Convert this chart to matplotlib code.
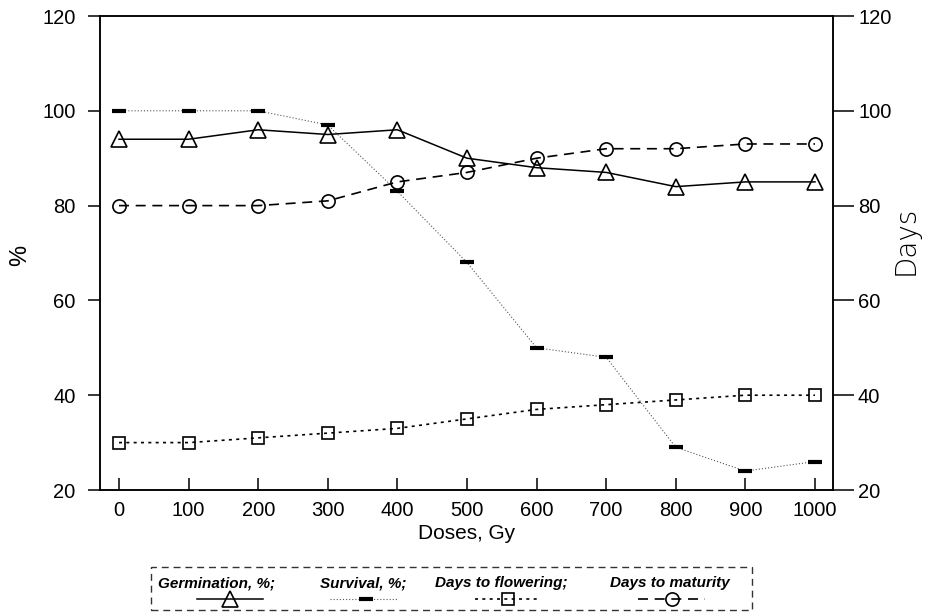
import matplotlib
matplotlib.use("Agg")
import matplotlib.pyplot as plt
from matplotlib.lines import Line2D
from matplotlib.patches import Rectangle

plt.rcParams['font.family'] = ['Liberation Sans', 'DejaVu Sans']

doses = [0, 100, 200, 300, 400, 500, 600, 700, 800, 900, 1000]
germination = [94, 94, 96, 95, 96, 90, 88, 87, 84, 85, 85]
survival = [100, 100, 100, 97, 83, 68, 50, 48, 29, 24, 26]
days_flowering = [30, 30, 31, 32, 33, 35, 37, 38, 39, 40, 40]
days_maturity = [80, 80, 80, 81, 85, 87, 90, 92, 92, 93, 93]
y_ticks = [20, 40, 60, 80, 100, 120]
labels = ["Germination, %;", "Survival, %;", "Days to flowering;", "Days to maturity"]

W, H = 929, 612
fig = plt.figure(figsize=(W / 100, H / 100), dpi=100)
L, R, T, B = 100, 833, 16, 490
ax = fig.add_axes([L / W, 1 - B / H, (R - L) / W, (B - T) / H])
ax2 = ax.twinx()

for sp in ax.spines.values():
    sp.set_linewidth(1.1)
for sp in ax2.spines.values():
    sp.set_linewidth(1.1)

ax.set_xlim(-27.3, 1025.9)
ax.set_ylim(20, 120)
ax2.set_ylim(20, 120)
ax.set_xticks(doses)
ax.set_yticks(y_ticks)
ax2.set_yticks(y_ticks)

ax.tick_params(axis='x', direction='in', length=9, width=1.1, pad=8, labelsize=14.5)
ax.tick_params(axis='y', direction='out', length=8.6, width=1.1, pad=9, labelsize=14.5)
ax2.tick_params(axis='y', direction='out', length=15, width=1.1, pad=3, labelsize=14.5)

ax.set_xlabel("Doses, Gy", fontsize=15, labelpad=3)


def fx(px):
    return px / W


def fy(py):
    return 1 - py / H


fig.text(fx(20), fy(255), "%", rotation=90, ha='center', va='center', fontsize=17)
fig.text(fx(906), fy(240), "Days", rotation=90, ha='center', va='center', fontsize=20,
         family=['DejaVu Sans'], fontweight='light')

# Germination: solid with open triangles
ax.plot(doses, germination, color='black', lw=1.1, ls='-', marker='^', ms=11,
        mfc='none', mec='black', mew=1.2)
# Survival: fine dotted grey with thick dashes
ax.plot(doses, survival, color='#555555', lw=0.8, ls=(0, (1, 1.8)), marker='_', ms=9.4,
        mec='black', mew=3.0)
# Days to flowering: dotted with open squares
ax2.plot(doses, days_flowering, color='black', lw=1.2, ls=(0, (1.8, 2.6)), marker='s', ms=9,
         mfc='none', mec='black', mew=1.2)
# Days to maturity: dashed with open circles
ax2.plot(doses, days_maturity, color='black', lw=1.2, ls=(0, (6, 4)), marker='o', ms=9.5,
         mfc='none', mec='black', mew=1.2)

# Custom legend (labels above line samples) inside a dashed box
box = Rectangle((fx(151), fy(610)), fx(752) - fx(151), fy(567) - fy(610),
                transform=fig.transFigure, fill=False, ls=(0, (5, 3.5)), lw=1.0,
                edgecolor='#333333')
fig.patches.append(box)

text_centers = [217, 363, 501, 670]
for lab, cx in zip(labels, text_centers):
    fig.text(fx(cx), fy(583), lab, ha='center', va='center', fontsize=11,
             fontweight='bold', style='italic')

hy = fy(599)
samples = [
    (197, 263, 230, dict(color='black', lw=1.1, ls='-'), dict(marker='^', ms=11, mfc='none', mec='black', mew=1.2)),
    (330, 397, 366, dict(color='#555555', lw=0.8, ls=(0, (1, 1.8))), dict(marker='_', ms=9.4, mec='black', mew=3.0)),
    (475, 540, 508, dict(color='black', lw=1.2, ls=(0, (1.8, 2.6))), dict(marker='s', ms=9, mfc='none', mec='black', mew=1.2)),
    (638, 705, 672, dict(color='black', lw=1.2, ls=(0, (6, 4))), dict(marker='o', ms=9.5, mfc='none', mec='black', mew=1.2)),
]
for x0, x1, xm, lstyle, mstyle in samples:
    fig.lines.append(Line2D([fx(x0), fx(x1)], [hy, hy], transform=fig.transFigure, **lstyle))
    fig.lines.append(Line2D([fx(xm)], [hy], transform=fig.transFigure, ls='none', **mstyle))

fig.savefig("out.png", dpi=100)
